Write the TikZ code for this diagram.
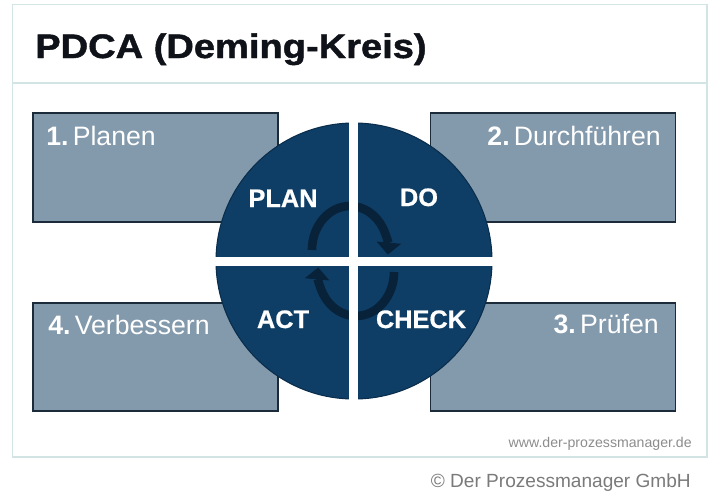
\documentclass[tikz,border=0pt]{standalone}
\usepackage{fontspec}
\setmainfont{Liberation Sans}
\newfontfamily\heavyfont[FakeBold=1.2]{Liberation Sans Bold}
\newfontfamily\phasefont[FakeBold=0.6]{Liberation Sans Bold}
\usetikzlibrary{arrows.meta}

\definecolor{framegray}{HTML}{D3E4E4}
\definecolor{boxfill}{HTML}{8399AC}
\definecolor{boxline}{HTML}{1C2B3A}
\definecolor{navy}{HTML}{0E3E66}
\definecolor{navydark}{HTML}{0A2D4C}
\definecolor{cyclecol}{HTML}{08223A}
\definecolor{titleink}{HTML}{0F1218}

\begin{document}
\begin{tikzpicture}[
  x=0.75pt, y=-0.75pt,
  stepbox/.style={rectangle, draw=boxline, line width=1.3pt, fill=boxfill,
    minimum width=183.75pt, minimum height=81.5pt, inner sep=0pt},
  boxtext/.style={text=white, font=\fontsize{20}{24}\selectfont, inner sep=0pt},
  phase/.style={text=white, font=\fontsize{19}{22}\phasefont, inner sep=0pt},
  dial/.style={circle, fill=navy, draw=navydark, line width=0.8pt,
    minimum size=207pt, inner sep=0pt},
  cycle/.style={draw=cyclecol, line width=6.5pt, -{Triangle[length=9pt, width=18pt]}},
  gap/.style={draw=white, line width=6.75pt}
]
  \useasboundingbox (0,0) rectangle (718,497);

  % outer frame with title strip
  \draw[framegray, line width=1.2pt] (12.5,4.5) rectangle (707,457);
  \draw[framegray, line width=1.2pt] (12.5,83) -- (707,83);
  \node[anchor=base west, text=titleink, inner sep=0pt,
    font=\fontsize{25.5}{30}\heavyfont] (title) at (35,58)
    {\scalebox{1.12}[1]{PDCA (Deming-Kreis)}};

  % the four steps
  \node[stepbox] (planbox)  at (155.5,167.5) {};
  \node[stepbox] (dobox)    at (553,167.5)   {};
  \node[stepbox] (actbox)   at (155.5,357)   {};
  \node[stepbox] (checkbox) at (553,357)     {};

  \node[boxtext, anchor=base west] (plantext)  at (46,145)  {\textbf{1.}\hspace{0.16em}Planen};
  \node[boxtext, anchor=base east] (dotext)    at (661,145) {\textbf{2.}\hspace{0.16em}Durchführen};
  \node[boxtext, anchor=base east] (checktext) at (659,333) {\textbf{3.}\hspace{0.16em}Prüfen};
  \node[boxtext, anchor=base west] (acttext)   at (48,334)  {\textbf{4.}\hspace{0.16em}Verbessern};

  % PDCA wheel
  \node[dial] (wheel) at (354,261) {};
  \draw[cycle] (312,250) arc[start angle=180, end angle=366, x radius=38, y radius=44];
  \draw[cycle] (394,272) arc[start angle=0, end angle=186, x radius=38, y radius=44];
  \draw[gap] ([xshift=-0.5pt]wheel.north) -- ([xshift=-0.5pt]wheel.south);
  \draw[gap] (wheel.west) -- (wheel.east);

  \foreach \name/\x/\y/\word in {plan/283/207/PLAN, do/419/206/DO,
                                 act/283/328/ACT, check/421/328/CHECK} {
    \node[phase, anchor=base] (\name label) at (\x,\y) {\word};
  }

  % credits
  \node[anchor=base east, text=black!45, inner sep=0pt,
    font=\fontsize{10.6}{12}\selectfont] (web) at (692,447) {www.der-prozessmanager.de};
  \node[anchor=base east, text=black!52, inner sep=0pt,
    font=\fontsize{14.3}{17}\selectfont] (copy) at (691,487) {© Der Prozessmanager GmbH};
\end{tikzpicture}
\end{document}
